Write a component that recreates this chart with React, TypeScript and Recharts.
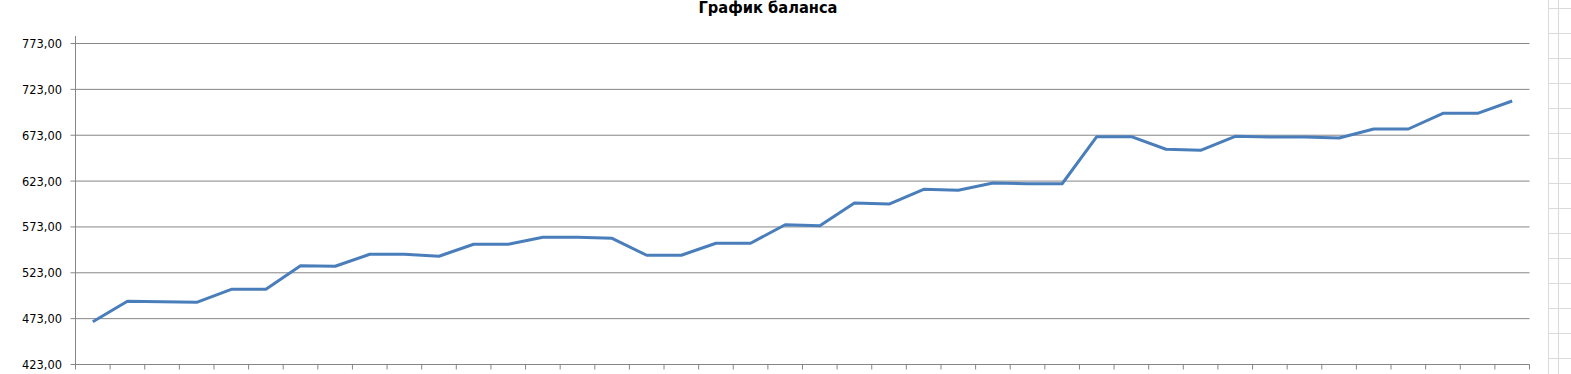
import React from 'react';
import { LineChart, Line, XAxis, YAxis, CartesianGrid } from 'recharts';

const title = 'График баланса';
const balance: number[] = [
  469.7, 491.9, 491.5, 490.8, 505.0, 505.0, 530.7, 530.1, 543.2, 543.2,
  541.0, 554.1, 554.1, 561.7, 561.7, 560.6, 542.1, 542.1, 555.2, 555.2,
  575.4, 574.3, 599.1, 598.0, 614.0, 613.0, 620.9, 620.1, 620.1, 671.4,
  671.4, 657.7, 656.6, 671.8, 671.1, 671.1, 670.0, 679.8, 679.8, 696.9,
  696.9, 710.3,
];
const yTicks: number[] = [423, 473, 523, 573, 623, 673, 723, 773];
const yDomainMin = 423;
const yDomainMax = 781.2;

const data = balance.map((v, i) => ({ pos: i + 0.5, balance: v }));
const xTicks = Array.from({ length: balance.length + 1 }, (_, i) => i);

const gray = '#868686';
const fmt = (v: number) => v.toFixed(2).replace('.', ',');

const gridGen = (props: any) => {
  const off = props.offset || {};
  const top = off.top ?? 36;
  const h = off.height ?? 328.5;
  return yTicks.map((t) => top + h * (1 - (t - yDomainMin) / (yDomainMax - yDomainMin)));
};

export default function App() {
  return (
    <div style={{ position: 'absolute', left: 0, top: 0, width: 1571, height: 374, background: '#fff' }}>
      <div
        style={{
          position: 'absolute',
          left: 0,
          width: 1536,
          top: 0,
          textAlign: 'center',
          fontFamily: "'DejaVu Sans Condensed', 'DejaVu Sans', sans-serif",
          fontWeight: 'bold',
          fontSize: 16.3,
          lineHeight: '16px',
          color: '#000',
        }}
      >
        {title}
      </div>
      <div
        style={{
          position: 'absolute',
          left: 1548,
          top: 0,
          width: 23,
          height: 374,
          borderLeft: '1px solid #dadada',
          backgroundImage:
            'repeating-linear-gradient(to bottom, transparent 0px, transparent 8px, #dadada 8px, #dadada 9px, transparent 9px, transparent 25px)',
        }}
      />
      <div style={{ position: 'absolute', left: 1558, top: 0, width: 1, height: 374, background: '#dadada' }} />
      <div style={{ position: 'absolute', left: 0, top: 0 }}>
        <LineChart
          width={1571}
          height={374}
          data={data}
          margin={{ top: 36, right: 41.5, bottom: 3.5, left: 0.5 }}
        >
          <CartesianGrid
            horizontal
            vertical={false}
            stroke={gray}
            strokeWidth={1}
            horizontalCoordinatesGenerator={gridGen}
          />
          <XAxis
            type="number"
            dataKey="pos"
            domain={[0, balance.length]}
            ticks={xTicks}
            interval={0}
            height={6}
            tickFormatter={() => ''}
            tickSize={5}
            tickLine={{ stroke: gray }}
            axisLine={{ stroke: gray }}
            allowDecimals={false}
          />
          <YAxis
            width={75}
            domain={[yDomainMin, yDomainMax]}
            ticks={yTicks}
            interval={0}
            tickSize={5}
            tickMargin={8.5}
            tickFormatter={fmt}
            tickLine={{ stroke: gray }}
            axisLine={{ stroke: gray }}
            allowDataOverflow
            tick={{
              fill: '#000',
              fontSize: 12.7,
              fontFamily: "'DejaVu Sans Condensed', 'Liberation Sans', sans-serif",
            }}
          />
          <Line
            type="linear"
            dataKey="balance"
            stroke="#4A7EBB"
            strokeWidth={3}
            dot={false}
            activeDot={false}
            strokeLinejoin="round"
            isAnimationActive={false}
          />
        </LineChart>
      </div>
    </div>
  );
}
